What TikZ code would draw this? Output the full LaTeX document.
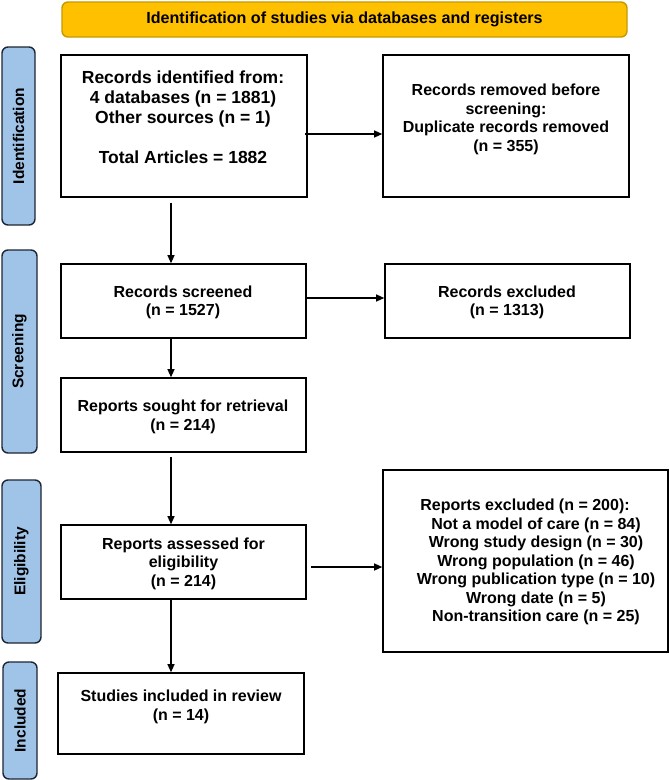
\documentclass[tikz,border=0pt]{standalone}
\usepackage{fontspec}
\setmainfont{Liberation Sans}
\usetikzlibrary{arrows.meta}
\definecolor{gold}{HTML}{FFC000}
\definecolor{goldedge}{HTML}{C49A00}
\definecolor{sideblue}{HTML}{A0C3E8}
\definecolor{sideedge}{HTML}{1E2633}
\begin{document}
\begin{tikzpicture}[x=1pt,y=-1pt,
  box/.style={draw=black, line width=1.6pt, inner sep=0pt},
  txt/.style={align=center, font=\fontsize{16}{18.5}\selectfont\bfseries, inner sep=0pt},
  side/.style={draw=sideedge, fill=sideblue, line width=1.4pt, rounded corners=6pt, inner sep=0pt, rotate=90, font=\fontsize{15.5}{18}\selectfont\bfseries},
  banner/.style={draw=goldedge, fill=gold, line width=1.4pt, rounded corners=6pt, inner sep=0pt, font=\fontsize{16.1}{18}\selectfont\bfseries},
  arr/.style={-{Triangle[length=8pt,width=7pt]}, line width=1.2pt}]
\useasboundingbox (0,0) rectangle (669,780);

% banner
\node[banner, minimum width=565, minimum height=35] (ban) at (344.5,19.5) {Identification of studies via databases and registers};

% side bars
\node[side, minimum width=178, minimum height=33] (sid) at (18.5,136) {Identification};
\node[side, minimum width=203, minimum height=35] (sscr) at (19.5,351.5) {Screening};
\node[side, minimum width=163, minimum height=39] (sel) at (21.5,561.5) {Eligibility};
\node[side, minimum width=117, minimum height=34] (sinc) at (20,720.5) {Included};

% boxes
\node[box, minimum width=246, minimum height=142] (idbox) at (184,126) {};
\node[box, minimum width=246, minimum height=142] (dupbox) at (506,126) {};
\node[box, minimum width=245, minimum height=74] (scrbox) at (183.5,301) {};
\node[box, minimum width=245, minimum height=74] (exclbox) at (507.5,301) {};
\node[box, minimum width=245, minimum height=74] (soughtbox) at (183.5,415) {};
\node[box, minimum width=245, minimum height=74] (assbox) at (183.5,562) {};
\node[box, minimum width=285, minimum height=182] (repbox) at (525.5,561) {};
\node[box, minimum width=246, minimum height=81] (inclbox) at (181,713.5) {};

% texts
\node[txt, font=\fontsize{17.5}{20}\selectfont\bfseries] (idtxt) at (183,117) {Records identified from:\\4 databases (n = 1881)\\Other sources (n = 1)\\[20pt]Total Articles = 1882};
\node[txt] (duptxt) at (506,119.5) {Records removed before\\screening:\\Duplicate records removed\\(n = 355)};
\node[txt] (scrtxt) at (183,302.5) {Records screened\\(n = 1527)};
\node[txt] (excltxt) at (507,302.5) {Records excluded\\(n = 1313)};
\node[txt] (soughttxt) at (183,417) {Reports sought for retrieval\\(n = 214)};
\node[txt] (asstxt) at (183.5,563.5) {Reports assessed for\\eligibility\\(n = 214)};
\node[txt] (reptxt) at (536,562) {Reports excluded (n = 200):\kern22pt\\Not a model of care (n = 84)\\Wrong study design (n = 30)\\Wrong population (n = 46)\\Wrong publication type (n = 10)\\Wrong date (n = 5)\\Non-transition care (n = 25)};
\node[txt] (incltxt) at (181,707) {Studies included in review\\(n = 14)};

% arrows
\coordinate (v1) at (171,203);
\coordinate (v2) at (171,457);
\coordinate (h1) at (305,134);
\coordinate (h2) at (305,298);
\coordinate (h3) at (311,567);
\draw[arr] (v1) -- (scrbox.north -| v1);
\draw[arr] (scrbox.south -| v1) -- (soughtbox.north -| v1);
\draw[arr] (v2) -- (assbox.north -| v2);
\draw[arr] (assbox.south -| v2) -- (inclbox.north -| v2);
\draw[arr] (h1) -- (dupbox.west |- h1);
\draw[arr] (h2) -- (exclbox.west |- h2);
\draw[arr] (h3) -- (repbox.west |- h3);
\end{tikzpicture}
\end{document}
